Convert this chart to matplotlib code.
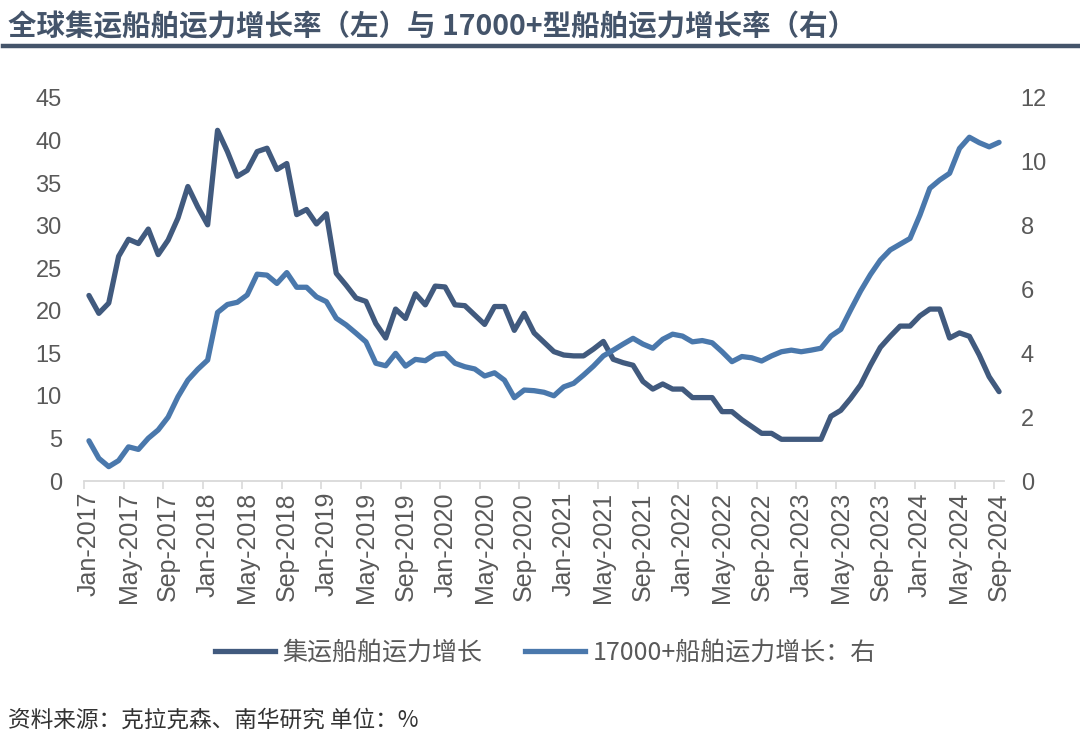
import matplotlib
matplotlib.use("Agg")
import matplotlib.pyplot as plt
from matplotlib.lines import Line2D
import numpy as np

plt.rcParams['font.family'] = ['Liberation Sans', 'Noto Sans CJK SC', 'DejaVu Sans']

# ---- data ----
months = ['Jan', 'Feb', 'Mar', 'Apr', 'May', 'Jun', 'Jul', 'Aug', 'Sep', 'Oct', 'Nov', 'Dec']
dates = [f"{m}-{y}" for y in range(2017, 2025) for m in months][:93]

fleet_growth = [
    21.8, 19.7, 20.9, 26.4, 28.4, 27.9, 29.6, 26.6, 28.3, 30.9, 34.6, 32.2,
    30.1, 41.2, 38.7, 35.8, 36.5, 38.7, 39.1, 36.6, 37.3, 31.3, 31.9, 30.2,
    31.4, 24.4, 23.0, 21.5, 21.1, 18.5, 16.8, 20.2, 19.1, 22.0, 20.7, 22.9,
    22.8, 20.7, 20.6, 19.5, 18.4, 20.5, 20.5, 17.7, 19.7, 17.4, 16.3, 15.2,
    14.8, 14.7, 14.7, 15.5, 16.4, 14.3, 13.9, 13.6, 11.7, 10.8, 11.4, 10.8,
    10.8, 9.8, 9.8, 9.8, 8.15, 8.15, 7.2, 6.4, 5.6, 5.6, 4.9, 4.9,
    4.9, 4.9, 4.9, 7.6, 8.3, 9.7, 11.3, 13.6, 15.7, 17.0, 18.2, 18.2,
    19.4, 20.2, 20.2, 16.8, 17.4, 17.0, 14.8, 12.25, 10.5,
]

ulcv_growth = [
    1.26, 0.71, 0.45, 0.64, 1.07, 0.99, 1.34, 1.60, 2.00, 2.64, 3.16, 3.50,
    3.79, 5.28, 5.53, 5.60, 5.83, 6.48, 6.45, 6.19, 6.53, 6.07, 6.07, 5.77,
    5.62, 5.10, 4.89, 4.63, 4.36, 3.69, 3.61, 4.00, 3.60, 3.81, 3.77, 3.97,
    4.00, 3.69, 3.58, 3.51, 3.29, 3.39, 3.16, 2.61, 2.85, 2.83, 2.78, 2.67,
    2.95, 3.06, 3.32, 3.60, 3.92, 4.10, 4.29, 4.47, 4.29, 4.16, 4.44, 4.60,
    4.54, 4.36, 4.40, 4.33, 4.05, 3.74, 3.90, 3.86, 3.76, 3.92, 4.05, 4.10,
    4.05, 4.10, 4.16, 4.54, 4.75, 5.36, 5.95, 6.47, 6.92, 7.24, 7.42, 7.60,
    8.33, 9.17, 9.43, 9.64, 10.42, 10.77, 10.60, 10.47, 10.61,
]

left_ticks = [0, 5, 10, 15, 20, 25, 30, 35, 40, 45]
right_ticks = [0, 2, 4, 6, 8, 10, 12]

title = "全球集运船舶运力增长率（左）与 17000+型船舶运力增长率（右）"
label_left = "集运船舶运力增长"
label_right = "17000+船舶运力增长：右"
source = "资料来源：克拉克森、南华研究 单位：%"

# ---- style ----
dark = '#415A7E'
blue = '#4A78AC'
grey_text = '#595959'
axis_grey = '#D9D9D9'
title_col = '#44546A'

fig = plt.figure(figsize=(10.8, 7.5), dpi=100)
ax = fig.add_axes([84 / 1080, 1 - 481 / 750, (1004 - 84) / 1080, (481 - 98) / 750])
ax2 = ax.twinx()

x = np.arange(len(dates))
ax.plot(x, fleet_growth, color=dark, lw=3.8, solid_joinstyle='round', solid_capstyle='round', zorder=3)
ax2.plot(x, ulcv_growth, color=blue, lw=3.8, solid_joinstyle='round', solid_capstyle='round', zorder=3)

ax.set_xlim(-0.5, len(dates) - 0.5)
ax.set_ylim(0, 45)
ax2.set_ylim(0, 12)
ax.set_yticks(left_ticks)
ax2.set_yticks(right_ticks)

# x ticks: marks at category boundaries, labels at every 4th category
ax.set_xticks(np.arange(-0.5, len(dates) - 1, 4))
ax.set_xticklabels([])
ax.set_xticks(x[::4], minor=True)
ax.set_xticklabels([dates[i] for i in x[::4]], minor=True, rotation=90,
                   fontsize=18, color=grey_text)
ax.tick_params(axis='x', which='major', length=6, width=1.2, color=axis_grey, direction='out')
ax.tick_params(axis='x', which='minor', length=0, pad=8)

for a in (ax, ax2):
    for s in ('top', 'left', 'right'):
        a.spines[s].set_visible(False)
    a.spines['bottom'].set_color(axis_grey)
    a.spines['bottom'].set_linewidth(1.3)
ax2.spines['bottom'].set_visible(False)

ax.tick_params(axis='y', length=0, labelsize=17, labelcolor=grey_text, pad=16)
ax2.tick_params(axis='y', length=0, labelsize=17, labelcolor=grey_text, pad=12)

# title and rule
fig.text(8 / 1080, 1 - 27 / 750, title, fontsize=20.5, fontweight='bold', color=title_col,
         va='center', ha='left', family=['Noto Sans CJK SC', 'DejaVu Sans'])
fig.add_artist(Line2D([3 / 1080, 1.0], [1 - 46 / 750, 1 - 46 / 750], color=title_col, lw=3.2,
                      transform=fig.transFigure))

# legend
handles = [Line2D([], [], color=dark, lw=3.8), Line2D([], [], color=blue, lw=3.8)]
fig.legend(handles, [label_left, label_right], loc='center', bbox_to_anchor=(0.505, 1 - 653 / 750),
           ncol=2, frameon=False, handlelength=2.4, handletextpad=0.3, columnspacing=1.7,
           prop={'family': ['Noto Sans CJK SC', 'DejaVu Sans'], 'size': 18}, labelcolor=grey_text)

fig.text(8 / 1080, 1 - 720 / 750, source, fontsize=16.3, color='#333333', va='center', ha='left',
         family=['Noto Sans CJK SC', 'DejaVu Sans'])

fig.savefig('out.png', dpi=100)
